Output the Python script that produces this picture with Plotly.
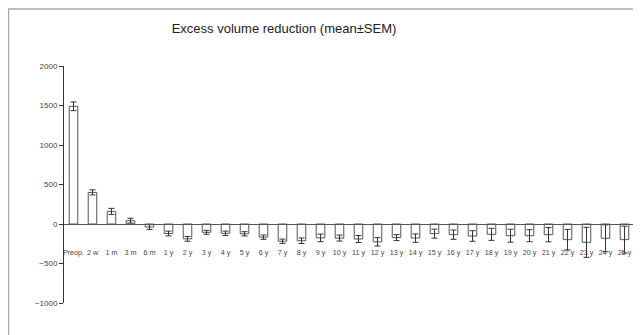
import plotly.graph_objects as go

categories = ["Preop.", "2 w", "1 m", "3 m", "6 m",
              "1 y", "2 y", "3 y", "4 y", "5 y", "6 y", "7 y", "8 y", "9 y", "10 y",
              "11 y", "12 y", "13 y", "14 y", "15 y", "16 y", "17 y", "18 y", "19 y", "20 y",
              "21 y", "22 y", "23 y", "24 y", "25 y"]
means = [1490, 400, 160, 42, -38,
         -120, -188, -105, -118, -124, -167, -218, -212, -176, -178,
         -190, -226, -172, -178, -122, -135, -152, -131, -148, -148,
         -135, -198, -232, -181, -198]
sem = [55, 32, 38, 30, 30,
       30, 30, 25, 28, 27, 27, 27, 35, 48, 38,
       44, 53, 38, 53, 57, 59, 67, 76, 82, 76,
       90, 130, 190, 170, 170]
y_ticks = [-1000, -500, 0, 500, 1000, 1500, 2000]

# page body has an 8px margin, so the figure is drawn 8px right/down
OFF = 8
W, H = 641 - OFF, 335 - OFF
l, r, t, b = 64 - OFF, W - (634 - OFF), 66 - OFF, H - (303 - OFF)
pw = W - l - r
ph = H - t - b

def px_x(p):
    return (p - OFF - l) / pw

def px_y(p):
    return (H - b - (p - OFF)) / ph

fig = go.Figure()
fig.add_trace(go.Bar(
    x=categories, y=means,
    marker=dict(color="white", line=dict(color="#555555", width=1)),
    width=0.45,
    error_y=dict(type="data", array=sem, visible=True, color="#333333",
                 thickness=1, width=3),
))

fig.add_shape(type="rect", xref="paper", yref="paper",
              x0=px_x(8.5), x1=px_x(636), y0=px_y(345), y1=px_y(9),
              line=dict(color="#aaaaaa", width=1.5), fillcolor="rgba(0,0,0,0)",
              layer="below")

fig.update_layout(
    width=W, height=H,
    margin=dict(l=l, r=r, t=t, b=b),
    paper_bgcolor="white", plot_bgcolor="white",
    showlegend=False,
    font=dict(family="Liberation Sans, Arial, sans-serif", size=8, color="#444444"),
    title=dict(text="Excess volume reduction (mean±SEM)", xref="container", yref="container",
               x=(284 - OFF) / W, y=1 - (28 - OFF) / H, xanchor="center", yanchor="middle",
               font=dict(size=13, color="#222222")),
    bargap=0.55,
)
fig.update_xaxes(
    range=[-0.5, 29.5], anchor="free", position=1000 / 3000,
    showline=True, linecolor="#555555", linewidth=1,
    ticks="", showgrid=False, zeroline=False,
    tickfont=dict(size=7.2, color="#444444"), tickangle=0,
    ticklabelstandoff=21,
)
fig.update_yaxes(
    range=[-1000, 2000], tickvals=y_ticks,
    showline=True, linecolor="#333333", linewidth=1,
    ticks="outside", ticklen=4, tickcolor="#333333",
    showgrid=False, zeroline=False,
    tickfont=dict(size=8, color="#444444"),
)

fig.write_html("out.html")
